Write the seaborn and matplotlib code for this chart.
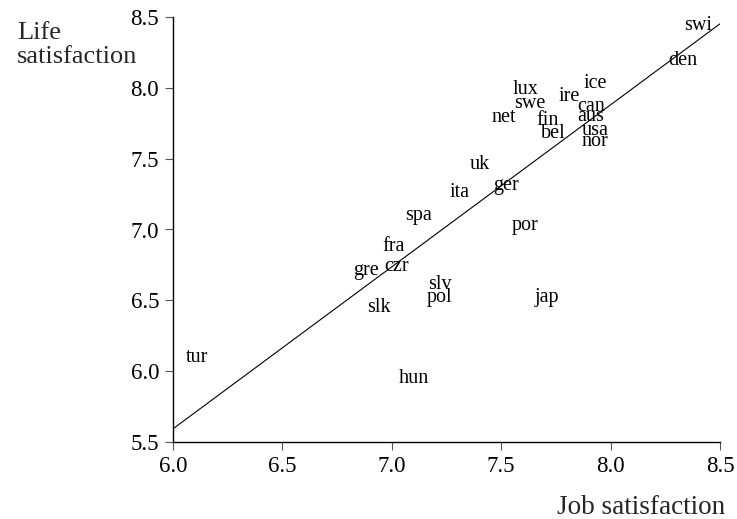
import matplotlib
matplotlib.use("Agg")
import matplotlib.pyplot as plt
import seaborn as sns
import pandas as pd

countries = ["swi", "den", "ice", "lux", "ire", "swe", "can", "aus", "net", "fin",
             "bel", "usa", "nor", "uk", "ger", "ita", "spa", "por", "fra", "czr",
             "gre", "slv", "pol", "jap", "slk", "tur", "hun"]
job_satisfaction = [8.40, 8.33, 7.93, 7.61, 7.81, 7.63, 7.91, 7.91, 7.51, 7.71,
                    7.74, 7.93, 7.93, 7.40, 7.52, 7.31, 7.12, 7.61, 7.01, 7.02,
                    6.88, 7.22, 7.22, 7.71, 6.94, 6.11, 7.10]
life_satisfaction = [8.44, 8.19, 8.03, 7.99, 7.94, 7.89, 7.87, 7.80, 7.79, 7.77,
                     7.68, 7.70, 7.62, 7.46, 7.31, 7.26, 7.10, 7.03, 6.88, 6.74,
                     6.71, 6.61, 6.52, 6.52, 6.45, 6.10, 5.95]
x_ticks = [6.0, 6.5, 7.0, 7.5, 8.0, 8.5]
y_ticks = [5.5, 6.0, 6.5, 7.0, 7.5, 8.0, 8.5]

df = pd.DataFrame({"country": countries, "job": job_satisfaction, "life": life_satisfaction})

sns.set_style("ticks")
plt.rcParams["font.family"] = ["Liberation Serif", "DejaVu Serif"]

fig = plt.figure(figsize=(7.37, 5.19), dpi=100)
ax = fig.add_axes([173/737, 1 - 442/519, (720-173)/737, (442-17)/519])
ax.set_xlim(6.0, 8.5)
ax.set_ylim(5.5, 8.5)

sns.regplot(data=df, x="job", y="life", scatter=False, ci=None, truncate=False,
            line_kws={"color": "black", "lw": 0.8}, ax=ax)

for c, xv, yv in zip(df["country"], df["job"], df["life"]):
    ax.text(xv, yv, c, ha="center", va="center", fontsize=14.5, color="black")

ax.set_xlim(6.0, 8.5)
ax.set_ylim(5.5, 8.5)
ax.set_xticks(x_ticks)
ax.set_yticks(y_ticks)
ax.set_xticklabels([f"{t:.1f}" for t in x_ticks])
ax.set_yticklabels([f"{t:.1f}" for t in y_ticks])
ax.tick_params(direction="out", length=6, width=0.8, labelsize=16.5, color="#555555",
               labelcolor="black", pad=4)
sns.despine(ax=ax)
for s in ["left", "bottom"]:
    ax.spines[s].set_linewidth(1.0)
    ax.spines[s].set_color("black")
ax.set_xlabel("")
ax.set_ylabel("")

fig.text(17/737, 1 - 45/519, "Life\nsatisfaction", ha="left", va="center", fontsize=19,
         linespacing=1.15)
fig.text(725/737, 1 - 507/519, "Job satisfaction", ha="right", va="center", fontsize=19.5)

fig.savefig("out.png", dpi=100)
